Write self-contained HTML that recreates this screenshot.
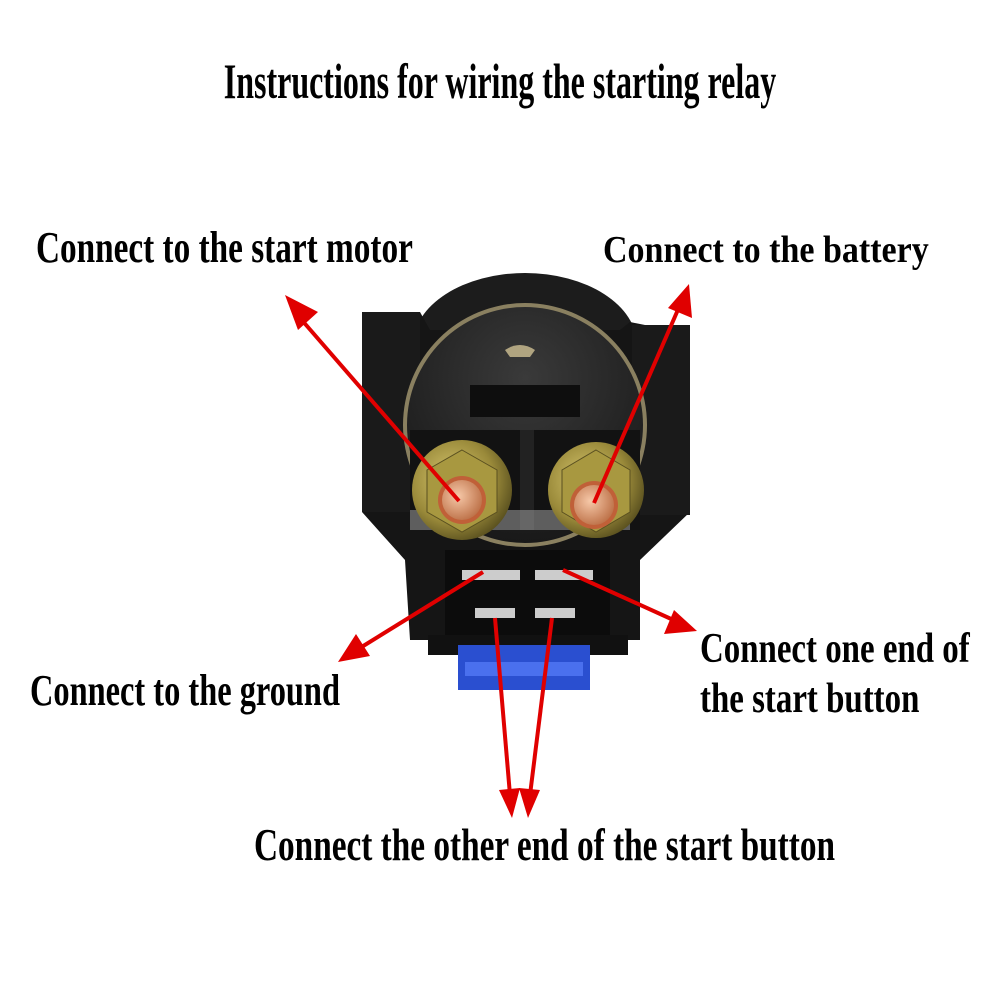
<!DOCTYPE html>
<html><head><style>
body{margin:0;background:#fff;}
svg{display:block}
text{font-family:"Liberation Serif",serif;font-weight:bold;fill:#000}
</style></head><body>
<svg width="1000" height="1000" viewBox="0 0 1000 1000">
<defs>
<radialGradient id="gold" cx="0.4" cy="0.4" r="0.7"><stop offset="0" stop-color="#d8c870"/><stop offset="0.6" stop-color="#9a8a3a"/><stop offset="1" stop-color="#4a4218"/></radialGradient>
<radialGradient id="cu" cx="0.4" cy="0.4" r="0.7"><stop offset="0" stop-color="#f6c8a8"/><stop offset="1" stop-color="#b86a40"/></radialGradient>
<radialGradient id="face" cx="0.5" cy="0.3" r="0.8"><stop offset="0" stop-color="#3a3a3a"/><stop offset="1" stop-color="#141414"/></radialGradient>
</defs>
<text x="500" y="98" font-size="50" text-anchor="middle" transform="translate(500,0) scale(0.64,1) translate(-500,0)">Instructions for wiring the starting relay</text>
<text x="36" y="262" font-size="44" transform="translate(36,0) scale(0.756,1) translate(-36,0)">Connect to the start motor</text>
<text x="603" y="262" font-size="38" transform="translate(603,0) scale(0.895,1) translate(-603,0)">Connect to the battery</text>
<text x="700" y="662" font-size="42" transform="translate(700,0) scale(0.784,1) translate(-700,0)">Connect one end of</text>
<text x="700" y="712" font-size="42" transform="translate(700,0) scale(0.784,1) translate(-700,0)">the start button</text>
<text x="30" y="705" font-size="44" transform="translate(30,0) scale(0.737,1) translate(-30,0)">Connect to the ground</text>
<text x="254" y="860" font-size="46" transform="translate(254,0) scale(0.724,1) translate(-254,0)">Connect the other end of the start button</text>

<!-- relay body -->
<ellipse cx="525" cy="345" rx="112" ry="72" fill="#1c1c1c"/>
<path d="M372 312 L420 312 L430 330 L620 330 L630 322 L680 332 L690 512 L640 560 L640 640 L410 640 L405 560 L362 512 Z" fill="#151515"/>
<rect x="362" y="312" width="58" height="200" fill="#1a1a1a"/>
<rect x="632" y="325" width="58" height="190" fill="#1a1a1a"/>
<circle cx="525" cy="425" r="122" fill="#8a8060"/>
<circle cx="525" cy="425" r="118" fill="url(#face)"/>
<rect x="470" y="385" width="110" height="32" fill="#0e0e0e"/>
<path d="M505 350 Q520 340 535 350 L530 357 L510 357Z" fill="#b0a480"/>
<rect x="410" y="430" width="230" height="100" fill="#121212"/>
<rect x="520" y="430" width="14" height="100" fill="#222"/>
<rect x="410" y="510" width="220" height="20" fill="#aaa" opacity="0.5"/>
<g>
<circle cx="462" cy="490" r="50" fill="url(#gold)"/>
<polygon points="462,450 497,470 497,512 462,532 427,512 427,470" fill="#a89840" stroke="#5a5020"/>
<circle cx="462" cy="500" r="24" fill="#c06038"/>
<circle cx="462" cy="500" r="20" fill="url(#cu)"/>
<circle cx="596" cy="490" r="48" fill="url(#gold)"/>
<polygon points="596,450 630,470 630,512 596,532 562,512 562,470" fill="#a89840" stroke="#5a5020"/>
<circle cx="594" cy="505" r="24" fill="#c06038"/>
<circle cx="594" cy="505" r="20" fill="url(#cu)"/>
</g>
<rect x="445" y="550" width="165" height="100" fill="#0c0c0c"/>
<rect x="462" y="570" width="58" height="10" fill="#ccc"/>
<rect x="535" y="570" width="58" height="10" fill="#ccc"/>
<rect x="475" y="608" width="40" height="10" fill="#ccc"/>
<rect x="535" y="608" width="40" height="10" fill="#ccc"/>
<rect x="428" y="635" width="200" height="20" fill="#111"/>
<rect x="458" y="645" width="132" height="45" fill="#2a4fd0"/>
<rect x="465" y="662" width="118" height="14" fill="#4a70ee"/>
<g stroke="#e00000" stroke-width="4" fill="none">
<line x1="459" y1="501" x2="300" y2="318"/>
<line x1="594" y1="503" x2="680" y2="305"/>
<line x1="483" y1="572" x2="360" y2="648"/>
<line x1="563" y1="570" x2="680" y2="623"/>
<line x1="495" y1="618" x2="510" y2="795"/>
<line x1="552" y1="618" x2="530" y2="795"/>
</g>
<g fill="#e00000">
<polygon points="285,295 318,312 298,330"/>
<polygon points="689,284 692,318 668,308"/>
<polygon points="338,662 356,634 370,656"/>
<polygon points="697,631 664,634 674,610"/>
<polygon points="512,818 499,790 520,788"/>
<polygon points="528,818 519,788 540,790"/>
</g>
</svg>
</body></html>
